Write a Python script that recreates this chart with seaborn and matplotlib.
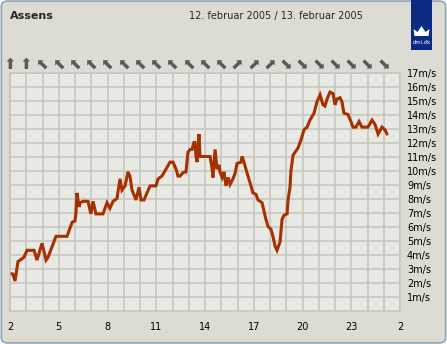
import matplotlib
matplotlib.use("Agg")
from matplotlib import pyplot as plt
from matplotlib.patches import FancyBboxPatch, Rectangle, Polygon
import pandas as pd
import seaborn as sns

# wind speed, Assens, 12/13 feb 2005 (hour of day, m/s)
hours = [2.00, 2.18, 2.31, 2.49, 2.62, 2.86, 3.05, 3.48, 3.66, 3.97, 4.22, 4.34,
         4.83, 5.51, 5.82, 6.00, 6.06, 6.12, 6.25, 6.31, 6.49, 6.80, 6.98, 7.11,
         7.29, 7.72, 7.97, 8.15, 8.34, 8.58, 8.77, 8.89, 9.08, 9.26, 9.38, 9.51,
         9.75, 9.94, 10.06, 10.25, 10.43, 10.62, 10.98, 11.11, 11.35, 11.60, 11.85,
         12.03, 12.22, 12.34, 12.46, 12.65, 12.83, 12.95, 13.08, 13.20, 13.32, 13.38,
         13.45, 13.51, 13.63, 13.69, 13.88, 14.31, 14.43, 14.49, 14.62, 14.74, 14.86,
         14.92, 15.05, 15.17, 15.29, 15.42, 15.54, 15.72, 15.85, 15.97, 16.22, 16.28,
         16.40, 16.58, 16.83, 16.95, 17.14, 17.26, 17.51, 17.63, 17.75, 17.88, 18.06,
         18.18, 18.31, 18.43, 18.62, 18.74, 18.86, 19.05, 19.11, 19.23, 19.29, 19.42,
         19.60, 19.72, 19.91, 20.09, 20.28, 20.46, 20.71, 20.89, 21.08, 21.26, 21.38,
         21.51, 21.69, 21.88, 22.00, 22.12, 22.31, 22.43, 22.55, 22.80, 22.98, 23.11,
         23.29, 23.48, 23.66, 24.03, 24.28, 24.46, 24.65, 24.89, 25.08, 25.20]
speed = [2.65, 2.6, 2.1, 3.5, 3.6, 3.8, 4.3, 4.3, 3.6, 4.8, 3.6, 3.8,
         5.3, 5.3, 6.3, 6.4, 7.0, 8.4, 7.4, 7.7, 7.8, 7.8, 6.9, 7.8,
         6.9, 6.9, 7.7, 7.3, 7.8, 8.0, 9.4, 8.6, 8.9, 9.9, 9.6, 8.6,
         7.9, 8.8, 7.9, 7.9, 8.4, 8.9, 8.9, 9.4, 9.6, 10.1, 10.6,
         10.6, 10.1, 9.6, 9.6, 9.85, 9.9, 11.3, 11.5, 11.5, 12.0, 12.0,
         11.0, 10.6, 12.6, 11.0, 11.0, 11.0, 10.2, 9.5, 11.5, 10.1, 10.4,
         9.9, 9.5, 9.9, 8.9, 9.5, 9.0, 9.4, 9.8, 10.5, 10.6, 11.0,
         10.6, 9.85, 8.9, 8.4, 8.3, 7.9, 7.7, 7.1, 6.5, 6.0, 5.8,
         5.3, 4.6, 4.3, 4.9, 6.5, 6.8, 6.9, 7.9, 8.8, 10.0, 11.1,
         11.4, 11.6, 12.2, 12.9, 13.1, 13.6, 14.1, 14.9, 15.4, 14.7, 14.6,
         15.1, 15.6, 15.5, 14.7, 15.1, 15.2, 14.9, 14.1, 14.0, 13.5, 13.1,
         13.1, 13.5, 13.1, 13.1, 13.6, 13.3, 12.6, 13.1, 12.9, 12.6]

# wind direction arrows, one per hour from 2 to 25
arrow_hours = list(range(2, 26))
arrows = ["⬆"] * 2 + ["⬉"] * 12 + ["⬈"] * 3 + ["⬊"] * 7

xtick_pos = [2, 5, 8, 11, 14, 17, 20, 23, 26]
xtick_labels = ["2", "5", "8", "11", "14", "17", "20", "23", "2"]
ytick_pos = list(range(1, 18))
ytick_labels = [f"{v}m/s" for v in ytick_pos]

title = "Assens"
dates = "12. februar 2005 / 13. februar 2005"

frame_col = "#dcdcd4"
plot_bg = "#e8e9e4"
grid_col = "#c6c6ba"
line_col = "#a63000"

df = pd.DataFrame({"hour": hours, "speed": speed})

sns.set_style("white")
plt.rcParams["font.family"] = ["DejaVu Sans"]

fig = plt.figure(figsize=(4.47, 3.44), dpi=100)
fig.patch.set_facecolor("white")
frame = FancyBboxPatch((0.003, 0.003), 0.994, 0.994,
                       boxstyle="round,pad=0,rounding_size=0.015",
                       transform=fig.transFigure, facecolor=frame_col,
                       edgecolor="#8fa3b7", linewidth=1.2, zorder=-10)
fig.patches.append(frame)

ax = fig.add_axes([10 / 447, 1 - 310.5 / 344, 390 / 447, 238 / 344])
ax.set_facecolor(plot_bg)

sns.lineplot(data=df, x="hour", y="speed", ax=ax, color=line_col,
             linewidth=2.2, solid_joinstyle="miter")

ax.set_xlim(2, 26)
ax.set_ylim(0, 17)
ax.set_xticks(xtick_pos)
ax.set_xticklabels(xtick_labels)
ax.set_xticks(range(2, 27), minor=True)
ax.set_yticks(ytick_pos)
ax.set_yticklabels(ytick_labels)
ax.yaxis.tick_right()
ax.grid(True, which="both", color=grid_col, linewidth=1.1)
ax.set_axisbelow(True)
ax.tick_params(axis="x", which="major", length=6, width=1, color="#a0a0a0",
               labelsize=7, pad=2, labelcolor="black")
ax.tick_params(axis="x", which="minor", length=0)
ax.tick_params(axis="y", length=0, labelsize=7, pad=5, labelcolor="black")
ax.set_xlabel("")
ax.set_ylabel("")
for sp in ax.spines.values():
    sp.set_color(grid_col)
    sp.set_linewidth(1.1)

trans = ax.get_xaxis_transform()
for h, a in zip(arrow_hours, arrows):
    ax.text(h, 1.032, a, transform=trans, ha="center", va="center",
            fontsize=11, color="#5a5a5a", clip_on=False)

fig.text(10 / 447, 1 - 16 / 344, title, fontsize=8, fontweight="bold",
         ha="left", va="center")
fig.text(276 / 447, 1 - 16 / 344, dates, fontsize=7, ha="center", va="center")

# dmi logo
fig.patches.append(Rectangle((411 / 447, 1 - 50 / 344), 21 / 447, 50 / 344,
                             transform=fig.transFigure, facecolor="#0c2a82",
                             edgecolor="none"))
cx, cy = 421.5, 32
crown = [(cx - 7, cy + 4), (cx - 8, cy - 3), (cx - 4, cy), (cx, cy - 6),
         (cx + 4, cy), (cx + 8, cy - 3), (cx + 7, cy + 4)]
fig.patches.append(Polygon([(x / 447, 1 - y / 344) for x, y in crown], closed=True,
                           transform=fig.transFigure, facecolor="white",
                           edgecolor="none"))
fig.text(cx / 447, 1 - 43 / 344, "dmi.dk", fontsize=3.8, color="white",
         ha="center", va="center")

fig.savefig("out.png", dpi=100, facecolor=fig.get_facecolor())
